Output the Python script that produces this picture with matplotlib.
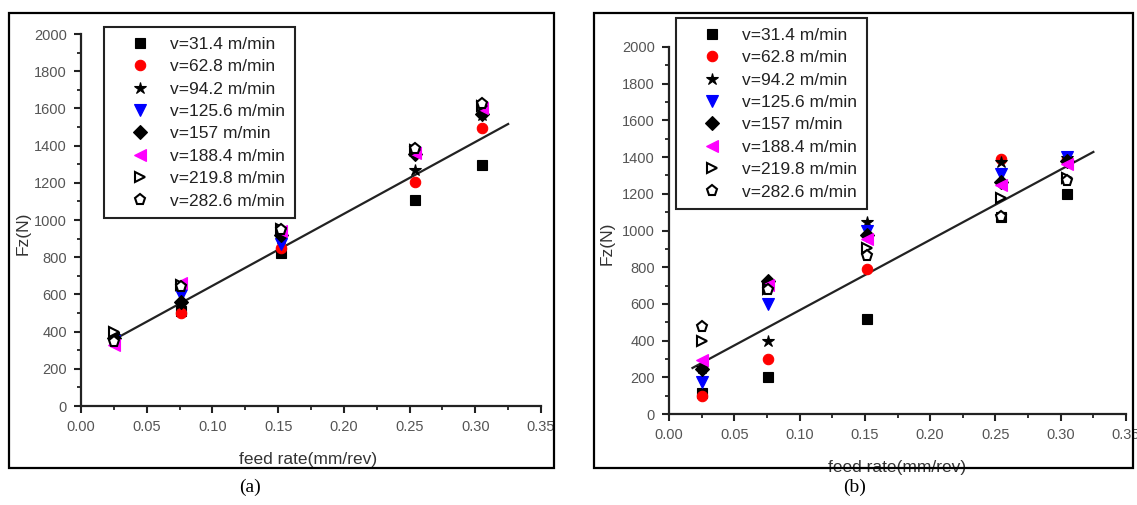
import matplotlib
matplotlib.use('Agg')
import matplotlib.pyplot as plt
import numpy as np
from matplotlib.patches import Rectangle

plt.rcParams['font.family'] = ['Liberation Sans', 'DejaVu Sans']

# Velocidades de corte (legenda)
speeds = ['v=31.4 m/min', 'v=62.8 m/min', 'v=94.2 m/min', 'v=125.6 m/min',
          'v=157 m/min', 'v=188.4 m/min', 'v=219.8 m/min', 'v=282.6 m/min']

# Avanços (mm/rev)
feed = [0.025, 0.076, 0.152, 0.254, 0.305]

# Fz (N) - painel (a), uma lista por velocidade
fz_a_314 = [370, 510, 820, 1110, 1295]
fz_a_628 = [360, 498, 848, 1205, 1495]
fz_a_942 = [375, 553, 902, 1270, 1565]
fz_a_1256 = [350, 597, 870, 1360, 1590]
fz_a_157 = [365, 560, 920, 1355, 1570]
fz_a_1884 = [330, 660, 940, 1362, 1600]
fz_a_2198 = [400, 650, 950, 1375, 1615]
fz_a_2826 = [345, 641, 946, 1380, 1624]

# Fz (N) - painel (b)
fz_b_314 = [113, 200, 520, 1075, 1200]
fz_b_628 = [96, 300, 790, 1390, 1390]
fz_b_942 = [250, 400, 1048, 1372, 1395]
fz_b_1256 = [172, 598, 997, 1308, 1402]
fz_b_157 = [244, 725, 975, 1266, 1380]
fz_b_1884 = [296, 703, 952, 1248, 1362]
fz_b_2198 = [396, 680, 903, 1178, 1285]
fz_b_2826 = [476, 676, 861, 1072, 1271]

# Retas de ajuste (inclinação, intercepto) e faixa de x
fit_a = [3865, 260]
fit_a_x = [0.029, 0.325]
fit_b = [3834, 182]
fit_b_x = [0.018, 0.325]

series_a = [fz_a_314, fz_a_628, fz_a_942, fz_a_1256, fz_a_157, fz_a_1884, fz_a_2198, fz_a_2826]
series_b = [fz_b_314, fz_b_628, fz_b_942, fz_b_1256, fz_b_157, fz_b_1884, fz_b_2198, fz_b_2826]

# Estilo dos marcadores (marker, face, size)
styles = [('s', 'black', 7), ('o', 'red', 7.5), ('*', 'black', 9), ('v', 'blue', 8),
          ('D', 'black', 7), ('<', 'magenta', 8), ('>', 'white', 7.5), ('p', 'white', 8)]

fig = plt.figure(figsize=(11.37, 5.05), dpi=100)


def draw_panel(rect, series, fit, fit_x, legend_anchor, ylabel_xy, xlabel_xy):
    ax = fig.add_axes(rect)
    for vals, lab, (m, fc, ms) in zip(series, speeds, styles):
        ec = 'black' if fc in ('white', 'black') else fc
        ax.plot(feed, vals, linestyle='none', marker=m, markersize=ms,
                markerfacecolor=fc, markeredgecolor=ec,
                markeredgewidth=1.5 if fc == 'white' else 0.8, label=lab)
    xs = np.array(fit_x)
    ax.plot(xs, fit[0] * xs + fit[1], color='#222222', linewidth=1.6, zorder=1)

    ax.set_xlim(0, 0.35)
    ax.set_ylim(0, 2000)
    ax.set_xticks(np.arange(0, 0.351, 0.05))
    ax.set_xticks(np.arange(0.025, 0.35, 0.05), minor=True)
    ax.set_yticks(np.arange(0, 2001, 200))
    ax.set_yticks(np.arange(100, 2000, 200), minor=True)
    ax.xaxis.set_major_formatter(plt.FuncFormatter(lambda v, p: f'{v:.2f}'))
    ax.spines['top'].set_visible(False)
    ax.spines['right'].set_visible(False)
    for s in ('left', 'bottom'):
        ax.spines[s].set_linewidth(1.6)
        ax.spines[s].set_color('#222222')
    ax.tick_params(which='major', direction='out', length=5, width=1.5,
                   labelsize=10.5, labelcolor='#555555', color='#222222', pad=5)
    ax.tick_params(which='minor', direction='out', length=3, width=1.3, color='#222222')

    ax.set_ylabel('Fz(N)', fontsize=12.5, color='#333333')
    ax.yaxis.set_label_coords(*ylabel_xy)
    ax.set_xlabel('feed rate(mm/rev)', fontsize=12.5, color='#333333')
    ax.xaxis.set_label_coords(*xlabel_xy)

    leg = ax.legend(loc='upper left', bbox_to_anchor=legend_anchor,
                    bbox_transform=fig.transFigure, borderaxespad=0,
                    fontsize=12.5, labelspacing=0.42, handlelength=3.0,
                    handletextpad=0.25, borderpad=0.55, fancybox=False,
                    edgecolor='#222222', framealpha=1)
    leg.get_frame().set_linewidth(1.5)
    for t in leg.get_texts():
        t.set_color('#222222')
    return ax


draw_panel([81 / 1137, 1 - 406 / 505, 460 / 1137, 372 / 505], series_a, fit_a, fit_a_x,
           (104 / 1137, 1 - 27 / 505), (-0.11, 0.465), (0.493, -0.124))
draw_panel([669 / 1137, 1 - 414 / 505, 457 / 1137, 367 / 505], series_b, fit_b, fit_b_x,
           (676 / 1137, 1 - 18 / 505), (-0.12, 0.466), (0.499, -0.125))

# Molduras dos painéis
for x0, w in [(9, 545), (594, 539)]:
    fig.patches.append(Rectangle((x0 / 1137, 1 - 468 / 505), w / 1137, 455 / 505,
                                 transform=fig.transFigure, fill=False,
                                 edgecolor='black', linewidth=1.6))

fig.text(250 / 1137, 1 - 487 / 505, '(a)', ha='center', va='center',
         fontsize=14, family=['Liberation Serif', 'DejaVu Serif'])
fig.text(855 / 1137, 1 - 487 / 505, '(b)', ha='center', va='center',
         fontsize=14, family=['Liberation Serif', 'DejaVu Serif'])

fig.savefig('out.png', dpi=100)
